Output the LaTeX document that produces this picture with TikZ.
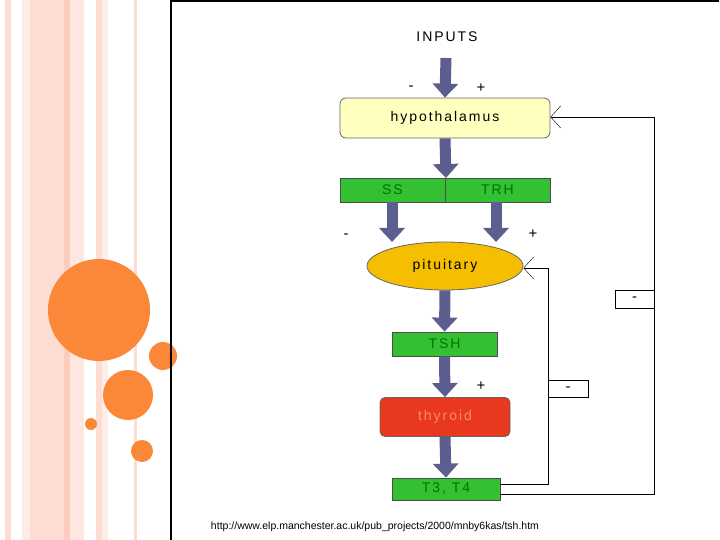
\documentclass[tikz,border=0pt]{standalone}
\usepackage{fontspec}
\setmainfont{Liberation Sans}[LetterSpace=14]
\newfontfamily\urlfont{Liberation Sans}
\usetikzlibrary{arrows.meta, positioning, shapes.geometric}

\definecolor{fatblue}{HTML}{5B5E8E}
\definecolor{hypo}{HTML}{FFFFC0}
\definecolor{bar}{HTML}{33C033}
\definecolor{pit}{HTML}{F5BE00}
\definecolor{thy}{HTML}{E8391E}
\definecolor{thytext}{HTML}{FF8A60}
\definecolor{dot}{HTML}{FB8738}
\definecolor{stripe}{HTML}{FDDDD3}

\tikzset{
  fat/.style={draw=fatblue, line width=11pt, -{Triangle[width=25pt,length=14pt]}},
  fb/.style={draw=black, thin, -{Straight Barb[length=10pt,width=22pt]}},
  gbox/.style={draw=black!70, fill=bar, minimum height=24pt, text=black!55!green},
  sign/.style={font=\fontsize{15}{18}\selectfont}
}

\begin{document}
\begin{tikzpicture}[x=1pt, y=-1pt, thick, font=\fontsize{14}{17}\selectfont]

\useasboundingbox (0,0) rectangle (720,540);

% background stripes and dots
\fill[white] (0,0) rectangle (720,540);
\fill[stripe] (5,0) rectangle (11,540);
\fill[stripe!60] (22,0) rectangle (64,540);
\fill[stripe] (30,0) rectangle (64,540);
\fill[stripe!150] (64,0) rectangle (70,540);
\fill[stripe!70] (70,0) rectangle (84,540);
\fill[stripe] (96,0) rectangle (102,540);
\fill[stripe!50] (102,0) rectangle (108,540);
\fill[stripe] (134,0) rectangle (137,540);
\fill[dot] (99,310) circle (51);
\fill[dot] (163,356) circle (14);
\fill[dot] (128,395) circle (25);
\fill[dot] (91,424) circle (6);
\fill[dot] (142,451) circle (11);
\draw[line width=2pt] (171,540) -- (171,1) -- (719,1);

\node (inputs) at (447,37) {INPUTS};
\node[draw=black!60, fill=hypo, rounded corners=6pt, minimum width=210pt, minimum height=40pt]
  (hypo) at (445,118) {hypothalamus};
\node[gbox, minimum width=105pt] (ss) at (392.5,190) {SS};
\node[gbox, minimum width=105pt] (trh) at (497.5,190) {TRH};
\node[ellipse, draw=black!60, fill=pit, minimum width=156pt, minimum height=48pt]
  (pit) at (445,266) {pituitary};
\node[gbox, minimum width=105pt] (tsh) at (444.5,344) {TSH};
\node[draw=black!60, fill=thy, rounded corners=5pt, minimum width=130pt, minimum height=39pt, text=thytext]
  (thy) at (445,417) {thyroid};
\node[gbox, minimum width=108pt, minimum height=22pt] (t34) at (446,489) {T3, T4};

% signs
\node[sign] at (411,88) {-};
\node[sign] at (481,88) {+};
\node[sign] at (346,236) {-};
\node[sign] at (533,234) {+};
\node[sign] at (481,386) {+};

% fat arrows
\draw[fat] (446,58) -- (hypo.north);
\draw[fat] (hypo.south) -- (446,178);
\draw[fat] (392,202) -- (392,242);
\draw[fat] (496,202) -- (496,242);
\draw[fat] (pit.south) -- (tsh.north);
\draw[fat] (tsh.south) -- (thy.north);
\draw[fat] (thy.south) -- (t34.north);

% feedback loops
\coordinate (c1) at (548,484);
\coordinate (c2) at (548,268);
\coordinate (d1) at (654,494);
\coordinate (d2) at (654,117);
\draw[fb] (t34.east |- c1) -- (c1) -- (c2) -- (pit.east |- c2);
\draw[fb] (t34.east |- d1) -- (d1) -- (d2) -- (hypo.east |- d2);
\node[draw, fill=white, thin, minimum width=40pt, minimum height=17pt, sign] (m1) at (568,389) {-};
\node[draw, fill=white, thin, minimum width=39pt, minimum height=18pt, sign] (m2) at (634.5,299) {-};

\node[font=\urlfont\fontsize{10.5}{12}\selectfont] (url) at (375,527) {http://www.elp.manchester.ac.uk/pub\_projects/2000/mnby6kas/tsh.htm};

\end{tikzpicture}
\end{document}
